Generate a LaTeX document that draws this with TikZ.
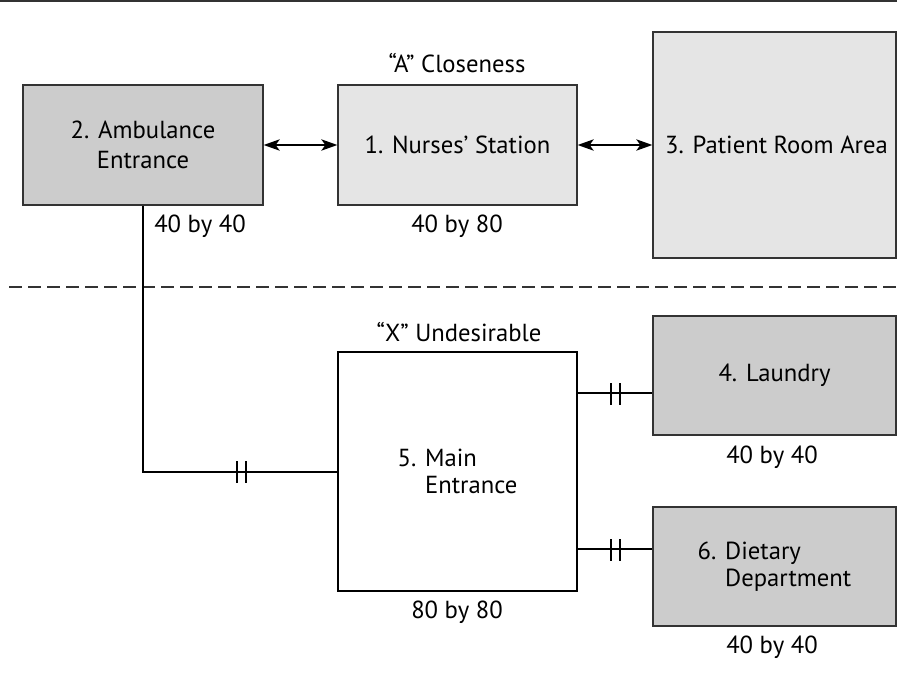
\documentclass[tikz,border=0pt]{standalone}
\usepackage{fontspec}
\setmainfont{PT Sans}
\usetikzlibrary{arrows.meta}
\definecolor{darkfill}{HTML}{CCCCCC}
\definecolor{lightfill}{HTML}{E5E5E5}
\definecolor{edge}{HTML}{333333}
\begin{document}
\begin{tikzpicture}[x=0.75pt,y=-0.75pt,
  every node/.style={font=\fontsize{18.5}{20}\selectfont, inner sep=0pt},
  dept/.style={draw=edge, line width=1pt, fill=darkfill, align=center},
  core/.style={draw=edge, line width=1pt, fill=lightfill, align=center},
  mainbox/.style={draw=black, line width=1.9pt, fill=white, align=left},
  conn/.style={line width=1.5pt, black},
  rel/.style={line width=1.2pt, black, {Stealth[length=12pt,width=8.5pt,inset=3pt]}-{Stealth[length=12pt,width=8.5pt,inset=3pt]}},
  dim/.style={anchor=base},
  dbltick/.pic={\draw[line width=1.5pt] (-4.5,-11) -- (-4.5,11) (4.5,-11) -- (4.5,11);}
]
\useasboundingbox (0,0) rectangle (897,685);

% frame rule at the top
\draw[line width=1.4pt, edge] (0,1) -- (897,1);

% closeness zone
\node[dept, minimum width=180pt, minimum height=90pt, font=\fontsize{18.5}{22.5}\selectfont] (amb) at (143,145) {2. Ambulance\\Entrance};
\node[core, minimum width=179.25pt, minimum height=90pt] (nurse) at (457.5,145) {1. Nurses' Station};
\node[core, minimum width=182.25pt, minimum height=169.5pt] (patient) at (774.5,145) {\hspace*{3pt}3. Patient Room Area};

\node[dim] (lblA) at (457,73) {``A'' Closeness};
\node[dim] (dimamb) at (200,232) {40 by 40};
\node[dim] (dimnurse) at (457,232) {40 by 80};

\draw[rel] (amb.east) -- (nurse.west);
\draw[rel] (nurse.east) -- (patient.west);

% zone separator
\draw[line width=0.9pt, edge, dash pattern=on 9.75pt off 4.5pt] (9,287) -- (897,287);

% undesirable zone
\node[mainbox, minimum width=179.25pt, minimum height=179.25pt] (main) at (457.5,471.5) {5. Main\\\phantom{5. }Entrance};
\node[dim] (lblX) at (459,341) {``X'' Undesirable};
\node[dim] (dimmain) at (457,618) {80 by 80};

\node[dept, minimum width=182.25pt, minimum height=89.25pt] (laundry) at (774.5,375.5) {\raisebox{-2pt}{4. Laundry}};
\node[dim] (dimlaundry) at (772,463) {40 by 40};

\node[dept, minimum width=182.25pt, minimum height=89.25pt, align=left] (diet) at (774.5,566.5) {6. Dietary\\\phantom{6. }Department};
\node[dim] (dimdiet) at (772,653) {40 by 40};

% separation links
\draw[conn] (amb.south) |- (main.west);
\pic at (241,472) {dbltick};

\coordinate (yl) at (0,393);
\coordinate (yd) at (0,549);
\draw[conn] (main.east |- yl) -- (laundry.west |- yl);
\pic at (615.5,394) {dbltick};
\draw[conn] (main.east |- yd) -- (diet.west |- yd);
\pic at (615.5,550) {dbltick};
\end{tikzpicture}
\end{document}
